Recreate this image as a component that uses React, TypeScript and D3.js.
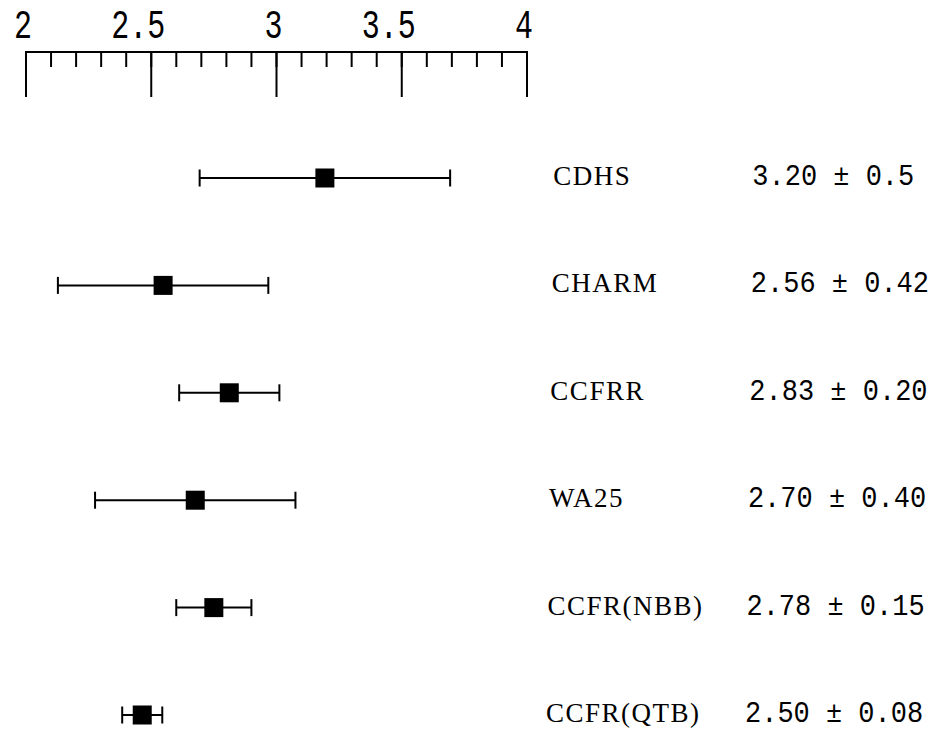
import React from "react";
import * as d3 from "d3";

const experiments = ["CDHS", "CHARM", "CCFRR", "WA25", "CCFR(NBB)", "CCFR(QTB)"];
const centralValues = [3.2, 2.56, 2.83, 2.7, 2.78, 2.5];
const errors = [0.5, 0.42, 0.2, 0.4, 0.15, 0.08];
const valueLabels = ["3.20 ± 0.5", "2.56 ± 0.42", "2.83 ± 0.20", "2.70 ± 0.40", "2.78 ± 0.15", "2.50 ± 0.08"];
const majorTicks = [2, 2.5, 3, 3.5, 4];
const tickLabels = ["2", "2.5", "3", "3.5", "4"];
const minorTicks = d3.range(21).map((i) => 2 + i * 0.1);

export default function App() {
  const W = 938, H = 740;
  const x = d3.scaleLinear().domain([2, 4]).range([26, 527]);
  const y = d3.scalePoint<string>().domain(experiments).range([178, 715]);
  const axisY = 52;
  const slant = -0.0136; // slight skew of the scanned original
  const ink = "#000";
  return (
    <svg width={W} height={H} style={{ position: "absolute", left: 0, top: 0, background: "#fff" }}>
      <rect width={W} height={H} fill="#fff" />
      <line x1={x(2) - 1} x2={x(4) + 1} y1={axisY} y2={axisY} stroke={ink} strokeWidth={2} />
      {minorTicks.map((t, i) => (
        <line key={"m" + i} x1={x(t)} x2={x(t)} y1={axisY} y2={axisY + 15} stroke={ink} strokeWidth={2} />
      ))}
      {majorTicks.map((t, i) => {
        const lx = x(t) - (Math.abs(t % 1) > 0.01 ? 13 : 3);
        return (
          <g key={"M" + i}>
            <line x1={x(t)} x2={x(t)} y1={axisY} y2={axisY + 45} stroke={ink} strokeWidth={2} />
            <text
              x={lx}
              y={38}
              textAnchor="middle"
              fontFamily="'Liberation Mono', monospace"
              fontSize={30}
              transform={`translate(0,${38 - 38 * 1.35}) scale(1,1.35)`}
              fill={ink}
            >
              {tickLabels[i]}
            </text>
          </g>
        );
      })}
      {experiments.map((name, i) => {
        const cy = y(name)!;
        const v = centralValues[i];
        const e = errors[i];
        const x0 = x(v - e), x1 = x(v + e), xc = x(v);
        const dx = slant * (cy - axisY);
        return (
          <g key={name} transform={`translate(${dx},0)`}>
            <line x1={x0} x2={x1} y1={cy} y2={cy} stroke={ink} strokeWidth={2} />
            <line x1={x0} x2={x0} y1={cy - 8.5} y2={cy + 8.5} stroke={ink} strokeWidth={2} />
            <line x1={x1} x2={x1} y1={cy - 8.5} y2={cy + 8.5} stroke={ink} strokeWidth={2} />
            <rect x={xc - 9.5} y={cy - 9.5} width={19} height={19} fill={ink} />
            <text
              x={555}
              y={cy + 7}
              fontFamily="'Liberation Serif', serif"
              fontSize={27}
              letterSpacing={1.5}
              fill={ink}
            >
              {name}
            </text>
            <text
              x={754}
              y={cy + 7}
              fontFamily="'Liberation Mono', monospace"
              fontSize={27}
              transform={`translate(0,${(cy + 7) * (1 - 1.08)}) scale(1,1.08)`}
              fill={ink}
            >
              {valueLabels[i]}
            </text>
          </g>
        );
      })}
    </svg>
  );
}
